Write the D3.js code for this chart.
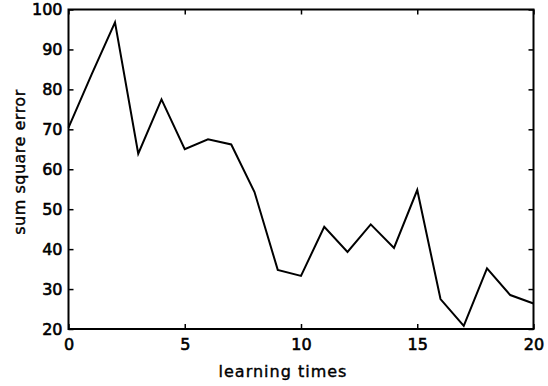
<!DOCTYPE html>
<html>
<head>
<meta charset="utf-8">
<script src="https://cdn.jsdelivr.net/npm/d3@7"></script>
<style>
html,body{margin:0;padding:0;background:#fff;}
svg{display:block;}
text{font-family:"DejaVu Sans",sans-serif;fill:#000;}
</style>
</head>
<body>
<svg id="chart" width="548" height="386"></svg>
<script>
const xValues = [0,1,2,3,4,5,6,7,8,9,10,11,12,13,14,15,16,17,18,19,20];
const errorValues = [70.4,83.8,96.8,63.9,77.5,65.0,67.5,66.2,54.3,34.8,33.3,45.6,39.3,46.2,40.3,54.8,27.5,20.8,35.2,28.5,26.4];
const xTicks = [0,5,10,15,20];
const yTicks = [20,30,40,50,60,70,80,90,100];
const xLabel = "learning times";
const yLabel = "sum square error";

(function(){
const svg = d3.select("#chart");
const mLeft = 68.5, mRight = 533.5, mTop = 9.5, mBottom = 329;
const x = d3.scaleLinear().domain([0,20]).range([mLeft,mRight]);
const y = d3.scaleLinear().domain([20,100]).range([mBottom,mTop]);

const tickLen = 5;
const gx = svg.append("g").attr("transform",`translate(0,${mBottom})`)
  .call(d3.axisBottom(x).tickValues(xTicks).tickSize(-tickLen).tickPadding(10).tickSizeOuter(0));
const gy = svg.append("g").attr("transform",`translate(${mLeft},0)`)
  .call(d3.axisLeft(y).tickValues(yTicks).tickSize(-tickLen).tickPadding(6).tickSizeOuter(0));
const gt = svg.append("g").attr("transform",`translate(0,${mTop})`)
  .call(d3.axisTop(x).tickValues(xTicks).tickSize(-tickLen).tickFormat("").tickSizeOuter(0));
const gr = svg.append("g").attr("transform",`translate(${mRight},0)`)
  .call(d3.axisRight(y).tickValues(yTicks).tickSize(-tickLen).tickFormat("").tickSizeOuter(0));

[gx,gy,gt,gr].forEach(g=>{
  g.select(".domain").remove();
  g.selectAll(".tick line").attr("stroke","#000").attr("stroke-width",1.5);
  g.selectAll(".tick text").attr("font-size",16).attr("font-family","DejaVu Sans, sans-serif")
    .attr("fill","#000").attr("stroke","#000").attr("stroke-width",0.6);
});

svg.append("rect").attr("x",mLeft).attr("y",mTop).attr("width",mRight-mLeft).attr("height",mBottom-mTop)
  .attr("fill","none").attr("stroke","#000").attr("stroke-width",2);

const line = d3.line().x((d,i)=>x(xValues[i])).y(d=>y(d));
svg.append("path").datum(errorValues).attr("d",line)
  .attr("fill","none").attr("stroke","#000").attr("stroke-width",2).attr("stroke-linejoin","miter");

svg.append("text").attr("x",283).attr("y",377).attr("text-anchor","middle")
  .attr("font-size",16).attr("letter-spacing",1).attr("stroke","#000").attr("stroke-width",0.4).text(xLabel);
svg.append("text").attr("transform","translate(25,162) rotate(-90)").attr("text-anchor","middle")
  .attr("font-size",16).attr("letter-spacing",0.5).attr("stroke","#000").attr("stroke-width",0.4).text(yLabel);
})();
</script>
</body>
</html>
